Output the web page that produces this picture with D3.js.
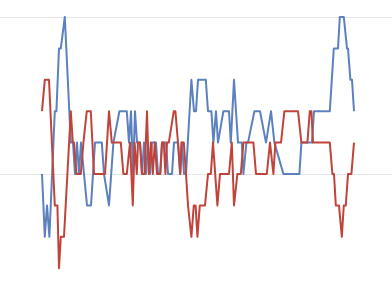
<!DOCTYPE html>
<html lang="en">
<head>
<meta charset="utf-8">
<title>Two series</title>
<script src="https://d3js.org/d3.v7.min.js"></script>
<style>
  body { margin: 0; background: #fff; }
  svg { display: block; }
</style>
</head>
<body>
<svg width="392" height="288"></svg>
<script>
// time positions (arbitrary units) and level values for each series
const blueT = [0,1.4,2.5,3.7,6.4,7.2,8.5,9.4,11.4,14.4,15.5,16.5,17.5,18.5,19.5,22.5,24.5,26.5,29.9,31,33.5,35.7,38.7,42.4,43.5,44.5,45.5,46.5,47.5,49,50,51,52,53,54,55,57,58,59,60,62,63,65,66,68,69,70,71,72,74.7,76,77,78,81.9,83,84.7,85.7,87,88,90.7,93.5,94.4,96,98,99.9,100.7,102.2,103,106.2,109,112,114.5,116.2,120.7,128.7,129.7,135,136,143.9,145.9,148,148.9,150.9,152.5,153,154.2,155,156];
const blueV = [0,-2,-1,-2,2,2,4,4,5,1,1,0,1,0,1,-1,-1,1,1,0,-1,1,2,2,1,2,0,2,1,1,0,1,0,1,0,1,1,0,0,1,1,0,0,1,1,0,1,0,0,3,2,2,3,3,2,2,1,2,1,2,2,1,3,1,1,0,1,1,2,2,1,2,1,0,0,1,1,2,2,4,4,5,5,4,4,3,3,2];

const redT = [0,1.4,3.5,6.4,7.7,8.5,9.4,11,14.4,15.4,16,17.2,19.4,20.7,22.4,24.4,26,31.5,33.5,34.9,39.4,40.7,42.4,44,45.4,46.3,47.4,48,49,50,51.3,52.5,53.4,54.5,55.4,56.4,57.5,59.2,60,60.9,61.7,62.5,63.4,65.9,66.7,68,69.2,69.7,70.9,72,73,74.7,75.9,76.8,77.7,78.9,81.5,83,84.4,85.5,87.7,89,93.5,94.9,96,97.7,99.4,100.7,102.7,105.7,107,112.4,114,115.7,116.7,119.5,121.2,128,129.7,132.7,133.9,134.7,135.5,143.9,145.2,146,146.9,148.5,149.9,150.9,151.9,153,154.7,156];
const redV = [2,3,3,-1,-1,-3,-2,-2,2,1,1,0,0,1,2,2,0,0,2,1,1,0,0,1,-1,1,0,1,1,0,0,2,0,1,0,1,0,0,1,1,0,1,1,2,2,1,0,1,1,0,-1,-2,-1,-1,-2,-1,-1,0,0,1,-1,0,0,1,-1,0,0,1,1,1,0,0,1,0,1,1,2,2,1,1,2,2,1,1,0,0,-1,-1,-2,-1,-1,0,0,1];

const gridValues = [0, 5];

const svg = d3.select("svg");
const width = 392, height = 288;

const x = d3.scaleLinear().domain([0, 156]).range([42, 354]);
const y = d3.scaleLinear().domain([0, 5]).range([174, 17]);

// gridlines
svg.selectAll("line.grid")
    .data(gridValues)
    .join("line")
    .attr("class", "grid")
    .attr("x1", 0).attr("x2", width)
    .attr("y1", d => y(d) + 0.5).attr("y2", d => y(d) + 0.5)
    .attr("stroke", "#e6e6e6")
    .attr("stroke-width", 1);

const line = d3.line()
    .x(d => x(d[0]))
    .y(d => y(d[1]));

const series = [
    {name: "blue", pts: d3.zip(blueT, blueV), color: "#5b82bf"},
    {name: "red", pts: d3.zip(redT, redV), color: "#c1443b"}
];

svg.selectAll("path.series")
    .data(series)
    .join("path")
    .attr("class", "series")
    .attr("d", d => line(d.pts))
    .attr("fill", "none")
    .attr("stroke", d => d.color)
    .attr("stroke-width", 2)
    .attr("stroke-linejoin", "round");
</script>
</body>
</html>
